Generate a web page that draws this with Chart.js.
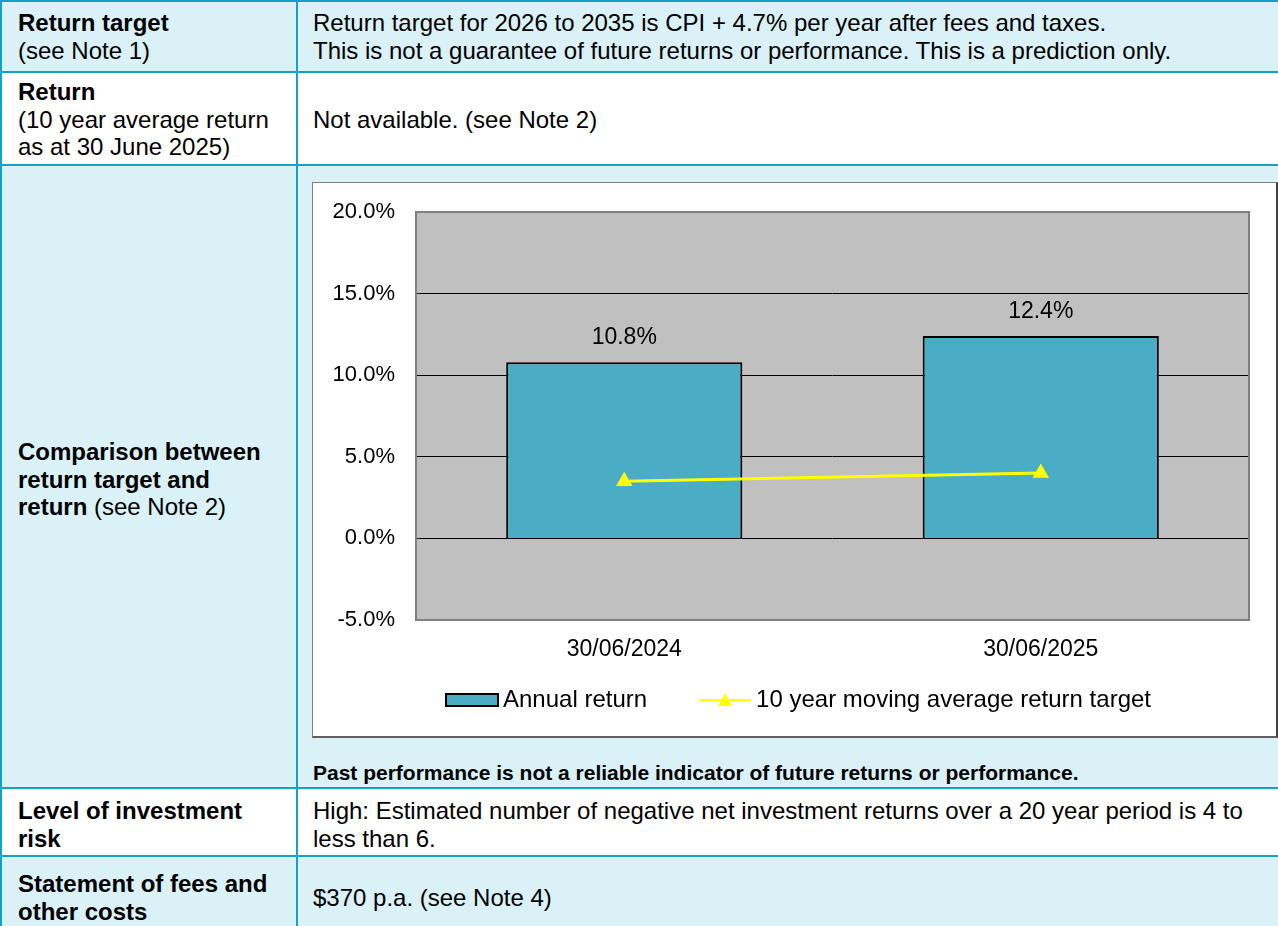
<!DOCTYPE html>
<html>
<head>
<meta charset="utf-8">
<script src="https://cdn.jsdelivr.net/npm/chart.js@4.4.1/dist/chart.umd.min.js"></script>
<style>
  html, body { margin: 0; padding: 0; }
  body {
    width: 1278px; height: 926px; overflow: hidden; position: relative;
    background: #11a3c6;
    font-family: "Liberation Sans", Arial, sans-serif; font-size: 24px; color: #000;
  }
  .cell {
    position: absolute; box-sizing: border-box;
    display: flex; flex-direction: column; justify-content: center;
    line-height: 27.5px; white-space: nowrap;
  }
  .c1 { left: 2px; width: 294px; padding-left: 16px; }
  .c2 { left: 298px; width: 980px; padding-left: 15px; }
  .blue { background: #daf1f7; }
  .white { background: #ffffff; }
  b { font-weight: bold; }
  #chartBox {
    position: absolute; left: 312px; top: 182px; width: 966px; height: 556px;
    box-sizing: border-box; background: #fff;
    border: 1px solid #808080; border-right: 2px solid #404040; border-bottom: 2px solid #606060;
  }
  #chartBox canvas { display: block; }
  #note {
    position: absolute; left: 313px; top: 761px;
    font-size: 21px; font-weight: bold; line-height: 24px; white-space: nowrap;
  }
</style>
</head>
<body>
  <div class="cell c1 blue" style="top:2px;height:69px"><div><b>Return target</b></div><div>(see Note 1)</div></div>
  <div class="cell c2 blue" style="top:2px;height:69px"><div>Return target for 2026 to 2035 is CPI + 4.7% per year after fees and taxes.</div><div>This is not a guarantee of future returns or performance. This is a prediction only.</div></div>

  <div class="cell c1 white" style="top:73px;height:91px;padding-top:2px"><div><b>Return</b></div><div>(10 year average return</div><div>as at 30 June 2025)</div></div>
  <div class="cell c2 white" style="top:73px;height:91px;padding-top:2px"><div>Not available. (see Note 2)</div></div>

  <div class="cell c1 blue" style="top:166px;height:621px;padding-top:6px"><div><b>Comparison between</b></div><div><b>return target and</b></div><div><b>return</b> (see Note 2)</div></div>
  <div class="cell c2 blue" style="top:166px;height:621px"></div>
  <div id="chartBox"><canvas id="returnChart" width="963" height="553"></canvas></div>
  <div id="note">Past performance is not a reliable indicator of future returns or performance.</div>

  <div class="cell c1 white" style="top:789px;height:66px;padding-top:5px"><div><b>Level of investment</b></div><div><b>risk</b></div></div>
  <div class="cell c2 white" style="top:789px;height:66px;padding-top:5px"><div>High: Estimated number of negative net investment returns over a 20 year period is 4 to</div><div>less than 6.</div></div>

  <div class="cell c1 blue" style="top:857px;height:69px;padding-top:12px"><div><b>Statement of fees and</b></div><div><b>other costs</b></div></div>
  <div class="cell c2 blue" style="top:857px;height:69px;padding-top:12px"><div>$370 p.a. (see Note 4)</div></div>

<script>
// chart data
const periods = ["30/06/2024", "30/06/2025"];
const annualReturn = [10.8, 12.4];
const targetAverage = [3.5, 4.0];
const yTicks = [-5, 0, 5, 10, 15, 20];

const FONT = "'Liberation Sans', Arial, sans-serif";

// grey plot background + frame, then value labels and legend
const plotDecor = {
  id: "plotDecor",
  beforeDraw(chart) {
    const a = chart.chartArea, ctx = chart.ctx;
    ctx.save();
    ctx.fillStyle = "#c0c0c0";
    ctx.fillRect(a.left, a.top, a.right - a.left, a.bottom - a.top);
    ctx.restore();
  },
  beforeDatasetsDraw(chart) {
    const a = chart.chartArea, ctx = chart.ctx;
    ctx.save();
    ctx.strokeStyle = "#808080";
    ctx.lineWidth = 2;
    ctx.strokeRect(a.left, a.top, a.right - a.left, a.bottom - a.top);
    ctx.restore();
  },
  afterDraw(chart) {
    const ctx = chart.ctx;
    ctx.save();
    ctx.font = "23px " + FONT;
    ctx.fillStyle = "#000";
    ctx.textAlign = "center";
    ctx.textBaseline = "middle";
    chart.getDatasetMeta(0).data.forEach((bar, i) => {
      ctx.fillText(annualReturn[i].toFixed(1) + "%", bar.x, bar.y - 24);
    });

    // legend
    ctx.font = "24px " + FONT;
    const ds = chart.data.datasets;
    const sw = 52, gap = 5, between = 52;
    const w0 = ctx.measureText(ds[0].label).width;
    const w1 = ctx.measureText(ds[1].label).width;
    const total = sw + gap + w0 + between + sw + gap + w1;
    let x = (chart.width - total) / 2 + 4;
    const y = 517;
    ctx.textAlign = "left";
    ctx.fillStyle = ds[0].backgroundColor;
    ctx.fillRect(x, y - 6, sw, 12);
    ctx.strokeStyle = "#000";
    ctx.lineWidth = 2;
    ctx.strokeRect(x, y - 6, sw, 12);
    x += sw + gap;
    ctx.fillStyle = "#000";
    ctx.fillText(ds[0].label, x, y);
    x += w0 + between;
    ctx.strokeStyle = ds[1].borderColor;
    ctx.lineWidth = 2;
    ctx.beginPath();
    ctx.moveTo(x, y);
    ctx.lineTo(x + sw, y);
    ctx.stroke();
    ctx.fillStyle = ds[1].borderColor;
    ctx.beginPath();
    ctx.moveTo(x + sw / 2, y - 7);
    ctx.lineTo(x + sw / 2 + 7, y + 6);
    ctx.lineTo(x + sw / 2 - 7, y + 6);
    ctx.closePath();
    ctx.fill();
    x += sw + gap;
    ctx.fillStyle = "#000";
    ctx.fillText(ds[1].label, x, y);
    ctx.restore();
  }
};

const ctx = document.getElementById("returnChart");
new Chart(ctx, {
  type: "bar",
  data: {
    labels: periods,
    datasets: [
      {
        label: "Annual return",
        data: annualReturn,
        backgroundColor: "#4bacc6",
        borderColor: "#000000",
        borderWidth: 2,
        barPercentage: 0.567,
        categoryPercentage: 1,
        order: 1
      },
      {
        type: "line",
        label: "10 year moving average return target",
        data: targetAverage,
        borderColor: "#ffff00",
        backgroundColor: "#ffff00",
        borderWidth: 3,
        pointStyle: "triangle",
        pointRadius: 9.5,
        pointBorderWidth: 0,
        order: 0
      }
    ]
  },
  options: {
    responsive: false,
    animation: false,
    layout: { padding: { left: 0, right: 27, top: 29, bottom: 0 } },
    plugins: { legend: { display: false }, tooltip: { enabled: false } },
    scales: {
      x: {
        grid: { display: false, drawTicks: false },
        border: { display: false },
        ticks: { color: "#000", font: { family: FONT, size: 23 }, padding: 16 },
        afterFit(scale) { scale.height = 116; }
      },
      y: {
        min: -5, max: 20,
        afterBuildTicks(scale) { scale.ticks = yTicks.map(v => ({ value: v })); },
        grid: {
          drawTicks: false,
          color: c => (c.tick && (c.tick.value === 20 || c.tick.value === -5)) ? "rgba(0,0,0,0)" : "#000",
          lineWidth: 1
        },
        border: { display: false },
        ticks: {
          color: "#000", font: { family: FONT, size: 22 }, padding: 21,
          callback: v => v.toFixed(1) + "%"
        },
        afterFit(scale) {
          scale.width = 103;
          scale.paddingTop = 0;
          scale.paddingBottom = 0;
        }
      }
    }
  },
  plugins: [plotDecor]
});
</script>
</body>
</html>
